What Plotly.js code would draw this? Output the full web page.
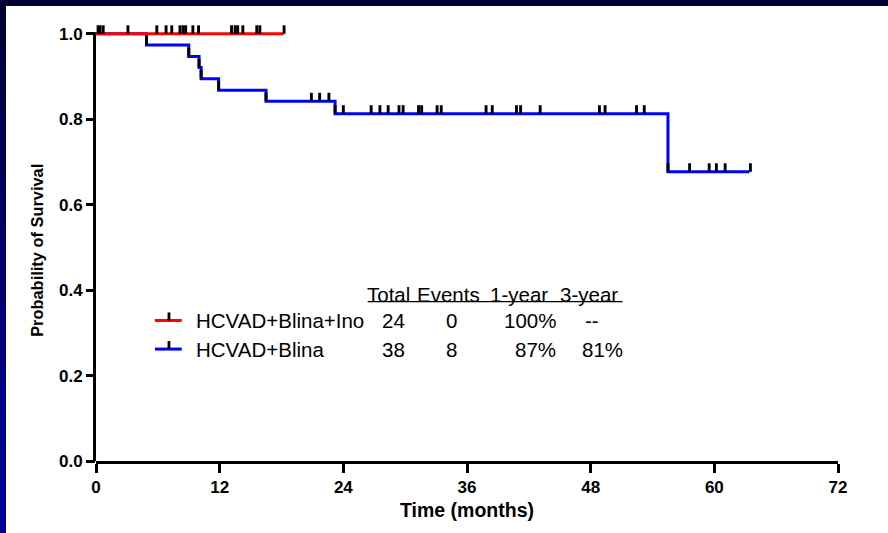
<!DOCTYPE html>
<html>
<head>
<meta charset="utf-8">
<script src="https://cdn.plot.ly/plotly-3.0.1.min.js"></script>
<style>
  html, body { margin: 0; padding: 0; background: #ffffff; }
  #frame { position: relative; width: 888px; height: 533px; background: linear-gradient(to bottom, #000033 0%, #00007a 60%, #000099 100%); overflow: hidden; }
  #chart { position: absolute; left: 6px; top: 6px; width: 882px; height: 527px; background: #ffffff; }
</style>
</head>
<body>
<div id="frame"><div id="chart"></div></div>
<script>
// ---- Data ----
// HCVAD+Blina+Ino (red): no events, survival stays at 1.0
const redStepTimes = [0, 18.2];
const redStepSurv  = [1.0, 1.0];
const redCensorTimes = [0.2, 0.4, 0.7, 3.1, 5.9, 6.8, 7.35, 8.15, 8.45, 8.7, 9.4, 9.95, 13.15, 13.5, 13.75, 14.25, 15.6, 15.9, 18.25];

// HCVAD+Blina (blue): step changes (time, survival after the step)
const blueStepTimes = [0, 4.9, 9.0, 10.0, 10.2, 11.9, 16.5, 23.2, 55.5, 63.4];
const blueStepSurv  = [1.0, 0.974, 0.947, 0.921, 0.895, 0.868, 0.842, 0.813, 0.677, 0.677];
const blueCensorTimes = [4.9, 9.0, 10.0, 10.2, 11.9, 16.5, 20.9, 21.7, 22.6, 23.2, 24.0, 26.7, 27.55, 28.35, 29.4, 29.8,
  31.3, 31.6, 33.1, 33.5, 37.85, 38.45, 40.8, 41.2, 43.1, 48.85, 49.4, 52.45, 53.2, 55.5, 57.6, 59.5, 60.2, 61.05, 63.5];

// Summary table
const groupNames = ["HCVAD+Blina+Ino", "HCVAD+Blina"];
const groupColors = ["#ff0000", "#0000ff"];
const totals = ["24", "38"];
const events = ["0", "8"];
const oneYear = ["100%", "87%"];
const threeYear = ["--", "81%"];
const tableHeader = ["Total", "Events", "1-year", "3-year"];

const xTicks = [0, 12, 24, 36, 48, 60, 72];
const yTicks = [0, 0.2, 0.4, 0.6, 0.8, 1.0];
const yTickText = ["0.0", "0.2", "0.4", "0.6", "0.8", "1.0"];

// ---- helpers ----
function survAt(times, surv, t) {
  let s = surv[0];
  for (let i = 0; i < times.length; i++) { if (times[i] <= t + 1e-9) s = surv[i]; }
  return s;
}
const Y_TOP = 1.03;             // headroom above 1.0 so censor ticks at 1.0 stay visible
const PX_PER_Y = 426.7;         // plot pixels per unit of survival
const Y_PER_PX = 1 / PX_PER_Y;
const TICK_PX = 8.5;

function stepTrace(times, surv, color) {
  return { x: times, y: surv, type: 'scatter', mode: 'lines', line: { shape: 'hv', color: color, width: 3 },
           hoverinfo: 'skip', showlegend: false, cliponaxis: false };
}
function censorTrace(ct, times, surv) {
  return { x: ct, y: ct.map(t => survAt(times, surv, t)), type: 'scatter', mode: 'markers',
           marker: { size: 1, color: 'rgba(0,0,0,0)' },
           error_y: { type: 'data', symmetric: false, array: ct.map(() => TICK_PX * Y_PER_PX), arrayminus: ct.map(() => 0),
                      width: 0, thickness: 2.9, color: '#000' },
           hoverinfo: 'skip', showlegend: false, cliponaxis: false };
}

const traces = [
  stepTrace(blueStepTimes, blueStepSurv, groupColors[1]),
  stepTrace(redStepTimes, redStepSurv, groupColors[0]),
  censorTrace(blueCensorTimes, blueStepTimes, blueStepSurv),
  censorTrace(redCensorTimes, redStepTimes, redStepSurv)
];

const FONT = 'Arial, "Liberation Sans", sans-serif';
const legFont = { family: FONT, size: 20.5, color: '#000' };

// table positions in data coordinates
const rowY = [0.329, 0.262];
const headerY = 0.389;
const annotations = [];
const shapes = [];
// y-axis line from 0 to 1.0 only
shapes.push({ type: 'line', xref: 'paper', yref: 'y', x0: -0.002, x1: -0.002, y0: -3 * Y_PER_PX, y1: 1.0 + 1.5 * Y_PER_PX, line: { color: '#000', width: 3 } });
// y-axis title (centred on the 0..1 span of the axis)
annotations.push({ xref: 'paper', yref: 'y', x: 0, y: 0.492, xshift: -59, xanchor: 'center', yanchor: 'middle', textangle: -90,
  showarrow: false, text: 'Probability of Survival', font: { family: FONT, size: 16.4, color: '#000', weight: 'bold' } });
const headerX = [26.1, 30.98, 38.05, 44.85];
tableHeader.forEach((h, i) => annotations.push({ x: headerX[i], y: headerY, xref: 'x', yref: 'y', text: h, showarrow: false,
  xanchor: 'left', yanchor: 'middle', font: legFont }));
shapes.push({ type: 'line', xref: 'x', yref: 'y', x0: 26.36, x1: 51.1, y0: 0.373, y1: 0.373, line: { color: '#000', width: 1.3 } });
groupNames.forEach((g, i) => {
  shapes.push({ type: 'line', xref: 'x', yref: 'y', x0: 5.72, x1: 8.32, y0: rowY[i], y1: rowY[i], line: { color: groupColors[i], width: 3 } });
  shapes.push({ type: 'line', xref: 'x', yref: 'y', x0: 7.08, x1: 7.08, y0: rowY[i], y1: rowY[i] + 8 * Y_PER_PX, line: { color: '#000', width: 2.8 } });
  annotations.push({ x: 9.5, y: rowY[i], xref: 'x', yref: 'y', text: g, showarrow: false, xanchor: 'left', yanchor: 'middle', font: legFont });
  annotations.push({ x: 28.82, y: rowY[i], xref: 'x', yref: 'y', text: totals[i], showarrow: false, xanchor: 'center', yanchor: 'middle', font: legFont });
  annotations.push({ x: 34.5, y: rowY[i], xref: 'x', yref: 'y', text: events[i], showarrow: false, xanchor: 'center', yanchor: 'middle', font: legFont });
  annotations.push({ x: 44.85, y: rowY[i], xref: 'x', yref: 'y', text: oneYear[i], showarrow: false, xanchor: 'right', yanchor: 'middle', font: legFont });
  if (threeYear[i] === '--') {
    annotations.push({ x: 48.1, y: rowY[i], xref: 'x', yref: 'y', text: threeYear[i], showarrow: false, xanchor: 'center', yanchor: 'middle', font: legFont });
  } else {
    annotations.push({ x: 51.3, y: rowY[i], xref: 'x', yref: 'y', text: threeYear[i], showarrow: false, xanchor: 'right', yanchor: 'middle', font: legFont });
  }
});

const axisCommon = {
  showgrid: false, zeroline: false, linecolor: '#000', linewidth: 3,
  ticks: 'outside', ticklen: 9, tickwidth: 3, tickcolor: '#000',
  tickfont: { family: FONT, size: 17, color: '#000', weight: 'bold' }, fixedrange: true
};

const topMargin = 34.3 - 6 - (Y_TOP - 1.0) * PX_PER_Y;

const layout = {
  width: 882, height: 527,
  margin: { l: 90, r: 50, t: topMargin, b: 72, pad: 0 },
  paper_bgcolor: '#ffffff', plot_bgcolor: '#ffffff',
  showlegend: false,
  xaxis: Object.assign({}, axisCommon, {
    showline: true,
    range: [0, 72], tickmode: 'array', tickvals: xTicks, ticktext: xTicks.map(String),
    title: { text: 'Time (months)', font: { family: FONT, size: 19.5, color: '#000', weight: 'bold' }, standoff: 7 }
  }),
  yaxis: Object.assign({}, axisCommon, {
    showline: false,
    range: [0, Y_TOP], tickmode: 'array', tickvals: yTicks, ticktext: yTickText
  }),
  annotations: annotations,
  shapes: shapes
};

Plotly.newPlot('chart', traces, layout, { displayModeBar: false, staticPlot: true });
</script>
</body>
</html>
